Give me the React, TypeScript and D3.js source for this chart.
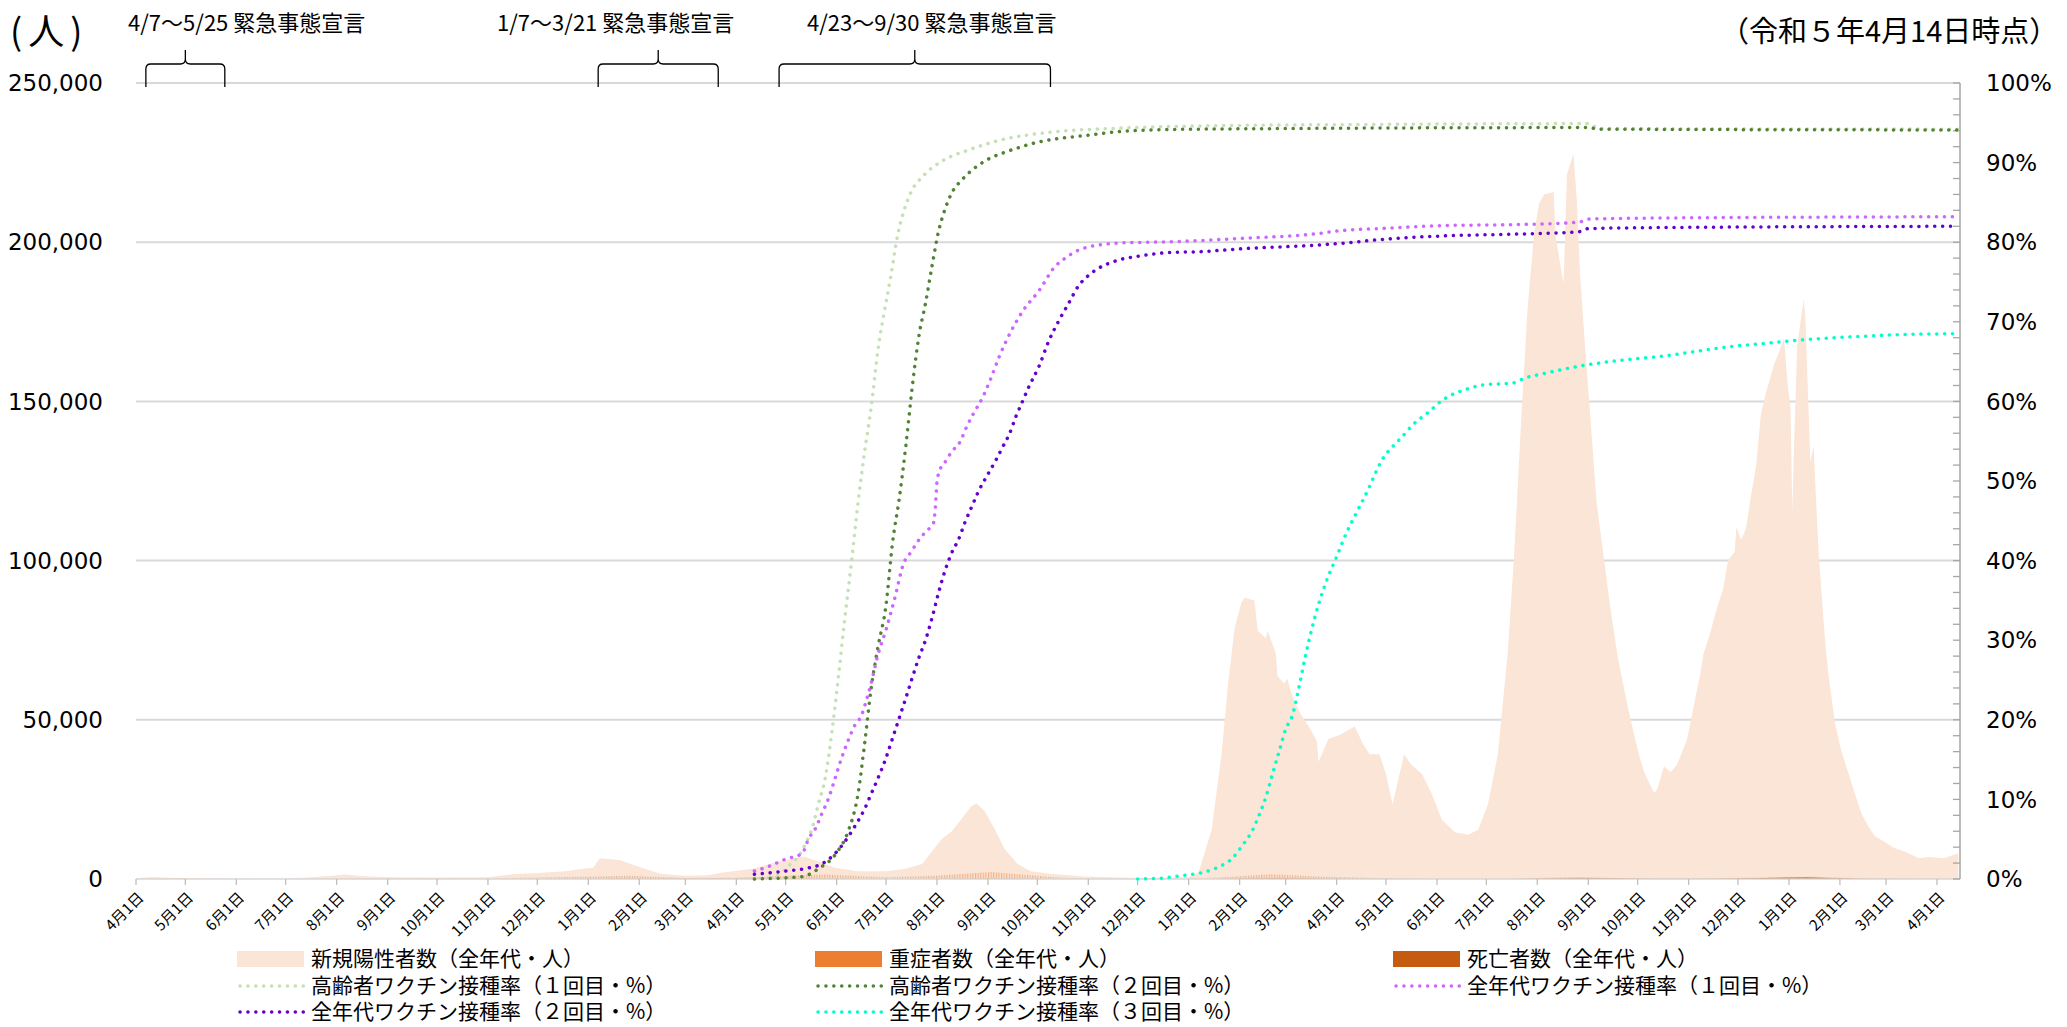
import React from "react";
import * as d3 from "d3";

// ---------------- data ----------------
const caseDates = [
  "2020-04-01","2020-04-11","2020-04-25","2020-05-10","2020-05-25","2020-06-20","2020-07-01","2020-07-14","2020-07-29","2020-08-06",
  "2020-08-18","2020-09-04","2020-10-01","2020-11-01","2020-11-17","2020-12-01","2020-12-18","2020-12-30","2021-01-04","2021-01-08",
  "2021-01-20","2021-01-29","2021-02-08","2021-02-15","2021-03-01","2021-03-15","2021-03-22","2021-04-11","2021-04-27","2021-05-12",
  "2021-05-21","2021-05-31","2021-06-14","2021-07-01","2021-07-13","2021-07-23","2021-07-29","2021-08-04","2021-08-10","2021-08-16",
  "2021-08-22","2021-08-25","2021-08-30","2021-09-05","2021-09-11","2021-09-19","2021-09-27","2021-10-10","2021-10-30","2021-12-01",
  "2021-12-27","2022-01-01","2022-01-07","2022-01-15","2022-01-21","2022-01-25","2022-01-29","2022-02-02","2022-02-04","2022-02-10",
  "2022-02-12","2022-02-17","2022-02-18","2022-02-23","2022-02-24","2022-02-28","2022-03-02","2022-03-05","2022-03-10","2022-03-16",
  "2022-03-20","2022-03-21","2022-03-27","2022-04-03","2022-04-12","2022-04-17","2022-04-21","2022-04-27","2022-05-01","2022-05-05",
  "2022-05-12","2022-05-16","2022-05-23","2022-05-29","2022-06-04","2022-06-12","2022-06-20","2022-06-26","2022-07-02","2022-07-08",
  "2022-07-14","2022-07-18","2022-07-22","2022-07-26","2022-07-30","2022-08-02","2022-08-05","2022-08-11","2022-08-12","2022-08-16",
  "2022-08-17","2022-08-19","2022-08-23","2022-08-25","2022-08-27","2022-08-30","2022-09-02","2022-09-06","2022-09-10","2022-09-14",
  "2022-09-19","2022-09-25","2022-09-29","2022-10-02","2022-10-05","2022-10-11","2022-10-13","2022-10-17","2022-10-21","2022-10-25",
  "2022-10-31","2022-11-05","2022-11-08","2022-11-10","2022-11-14","2022-11-18","2022-11-22","2022-11-25","2022-11-29","2022-11-30",
  "2022-12-03","2022-12-06","2022-12-09","2022-12-12","2022-12-15","2022-12-18","2022-12-23","2022-12-26","2022-12-29","2022-12-31",
  "2023-01-02","2023-01-03","2023-01-04","2023-01-06","2023-01-10","2023-01-11","2023-01-13","2023-01-14","2023-01-16","2023-01-17",
  "2023-01-19","2023-01-21","2023-01-23","2023-01-25","2023-01-27","2023-01-29","2023-02-02","2023-02-06","2023-02-10","2023-02-14",
  "2023-02-18","2023-02-22","2023-02-28","2023-03-06","2023-03-13","2023-03-21","2023-03-27","2023-04-05","2023-04-14"
];
const caseValues = [
  250,600,300,100,40,60,150,500,1000,1400,
  900,550,450,550,1600,1900,2400,3300,3500,6500,
  6000,4300,2600,1600,1050,1200,1900,3200,5500,7100,
  5500,3500,2400,2400,3200,4700,8700,12600,15000,18900,
  22900,23700,21300,15800,9500,4700,2400,1600,800,300,
  500,600,2000,15500,39200,61400,78800,86700,88300,87500,
  78000,75600,78000,70900,63800,61400,63000,57400,51900,47100,
  43200,36800,44000,45300,47900,42400,39200,39200,32900,23400,
  39200,36100,32900,26500,18600,14700,13900,15500,23400,39200,
  70900,102600,142200,178600,202400,211900,215000,215800,202400,189700,
  187300,221300,227700,213500,189700,167500,146900,118400,102600,86700,
  69400,54000,45000,38600,33500,27000,28300,35400,33500,36000,
  43700,56500,64200,70600,77000,84700,91100,100100,102700,110400,
  106500,110400,120600,129600,146300,152700,161700,165500,170000,156500,
  147600,115500,133500,167400,182200,175800,146300,130900,136000,124500,
  102700,88600,74500,64200,56500,48800,39900,33500,27000,20600,
  16800,13600,11700,9700,8500,6500,6900,6500,8100
];

const severeDates = [
  "2020-04-01","2020-04-30","2020-05-31","2020-07-01","2020-08-20","2020-09-30","2020-11-01","2020-12-01","2021-01-05","2021-01-26",
  "2021-02-28","2021-03-31","2021-05-25","2021-06-30","2021-07-31","2021-09-03","2021-10-15","2021-11-15","2021-12-31","2022-01-20",
  "2022-02-20","2022-03-20","2022-04-30","2022-06-15","2022-07-15","2022-08-25","2022-09-30","2022-11-01","2022-12-15","2023-01-15",
  "2023-02-15","2023-03-15","2023-04-14"
];
const severeValues = [
  100,330,60,35,260,150,170,450,800,1000,
  350,400,1400,550,1000,2200,400,80,60,500,
  1500,800,220,60,120,630,160,120,450,680,
  200,60,40
];

const deathDates = [
  "2020-04-01","2020-04-25","2020-05-15","2020-06-15","2020-08-25","2020-10-15","2020-12-01","2021-01-27","2021-03-10","2021-05-20",
  "2021-07-01","2021-09-01","2021-10-15","2021-12-01","2022-01-15","2022-02-22","2022-04-01","2022-06-01","2022-07-15","2022-08-28",
  "2022-10-10","2022-11-15","2023-01-12","2023-02-15","2023-04-14"
];
const deathValues = [
  3,25,15,2,15,8,30,100,40,110,
  20,60,15,2,15,270,80,20,20,340,
  60,80,480,100,10
];

const elderly1Dates = [
  "2021-04-12","2021-04-26","2021-05-04","2021-05-10","2021-05-13","2021-05-17","2021-05-21","2021-05-25","2021-05-29","2021-06-02",
  "2021-06-06","2021-06-10","2021-06-14","2021-06-18","2021-06-22","2021-06-26","2021-06-30","2021-07-04","2021-07-08","2021-07-12",
  "2021-07-16","2021-07-24","2021-08-05","2021-08-19","2021-09-08","2021-10-08","2021-11-17","2022-01-07","2022-05-01","2022-08-31",
  "2022-09-08","2023-04-14"
];
const elderly1Pct = [
  0,0.5,1.9,3.2,4.4,6.3,9.5,12.6,18.3,25.3,
  32.8,39.8,47.3,53.7,59.3,66.3,71.3,75.8,80.8,84.0,
  86.2,88.4,90.3,91.5,92.8,93.8,94.3,94.6,94.8,94.9,
  94.3,94.2
];

const elderly2Dates = [
  "2021-04-12","2021-05-11","2021-05-21","2021-06-01","2021-06-08","2021-06-14","2021-06-18","2021-06-22","2021-06-26","2021-07-01",
  "2021-07-05","2021-07-09","2021-07-13","2021-07-17","2021-07-21","2021-07-25","2021-07-29","2021-08-02","2021-08-05","2021-08-10",
  "2021-08-16","2021-08-22","2021-08-31","2021-09-10","2021-09-20","2021-09-30","2021-10-10","2021-10-30","2021-11-20","2021-12-10",
  "2022-01-07","2022-08-31","2022-09-08","2023-04-14"
];
const elderly2Pct = [
  0,0.3,1.3,3.3,6.0,10.7,17.0,24.0,29.0,34.4,
  42.3,47.7,54.3,61.9,68.2,72.3,77.0,81.4,83.6,86.2,
  87.8,89.0,90.3,91.2,91.9,92.5,92.9,93.4,93.9,94.1,
  94.2,94.4,94.2,94.1
];

const all1Dates = [
  "2021-04-12","2021-04-21","2021-05-01","2021-05-11","2021-05-15","2021-05-19","2021-05-23","2021-05-27","2021-05-31","2021-06-04",
  "2021-06-08","2021-06-12","2021-06-16","2021-06-19","2021-06-22","2021-06-26","2021-07-01","2021-07-06","2021-07-12","2021-07-16",
  "2021-07-20","2021-07-25","2021-07-30","2021-07-31","2021-08-01","2021-08-03","2021-08-06","2021-08-10","2021-08-15","2021-08-19",
  "2021-08-23","2021-08-29","2021-09-02","2021-09-08","2021-09-15","2021-09-22","2021-10-02","2021-10-12","2021-10-18","2021-10-25",
  "2021-11-01","2021-11-09","2021-11-20","2021-12-10","2021-12-26","2022-02-04","2022-03-17","2022-04-06","2022-04-26","2022-06-06",
  "2022-07-16","2022-08-26","2022-09-01","2022-09-25","2023-04-14"
];
const all1Pct = [
  1.0,1.6,2.5,3.2,5.1,6.3,8.2,10.1,12.6,15.2,
  17.4,19.3,20.5,22.4,24.6,28.1,31.3,35.0,39.8,41.0,
  42.3,43.6,44.8,46.7,49.9,51.5,52.4,53.7,54.9,56.8,
  58.4,60.6,62.5,65.7,68.8,71.3,73.9,77.0,78.0,78.9,
  79.4,79.7,79.9,80.0,80.1,80.5,81.0,81.5,81.7,82.1,
  82.2,82.5,82.9,83.0,83.2
];

const all2Dates = [
  "2021-04-12","2021-05-01","2021-05-15","2021-05-23","2021-05-31","2021-06-06","2021-06-12","2021-06-18","2021-06-22","2021-06-26",
  "2021-07-01","2021-07-05","2021-07-09","2021-07-13","2021-07-17","2021-07-21","2021-07-25","2021-07-29","2021-08-02","2021-08-06",
  "2021-08-10","2021-08-14","2021-08-18","2021-08-22","2021-08-26","2021-08-31","2021-09-06","2021-09-10","2021-09-14","2021-09-18",
  "2021-09-22","2021-09-26","2021-10-02","2021-10-08","2021-10-14","2021-10-20","2021-10-26","2021-11-01","2021-11-07","2021-11-13",
  "2021-11-20","2021-11-30","2021-12-10","2021-12-20","2022-01-07","2022-02-04","2022-03-17","2022-04-06","2022-04-26","2022-05-16",
  "2022-06-06","2022-07-16","2022-08-26","2022-09-01","2022-09-25","2023-04-14"
];
const all2Pct = [
  0.6,1.0,1.4,1.9,3.2,4.7,6.6,8.8,10.7,12.6,
  15.2,17.7,20.2,22.7,25.3,27.8,30.0,32.8,36.0,38.8,
  41.0,42.6,44.8,46.7,48.6,50.5,52.7,54.3,55.9,58.1,
  60.0,61.9,64.4,67.6,70.1,72.3,74.5,75.8,76.7,77.3,
  77.8,78.2,78.5,78.7,78.8,79.2,79.6,79.9,80.3,80.6,
  80.8,81.0,81.3,81.7,81.8,82.0
];

const all3Dates = [
  "2021-12-01","2021-12-15","2021-12-27","2022-01-09","2022-01-18","2022-01-28","2022-02-03","2022-02-09","2022-02-13","2022-02-17",
  "2022-02-21","2022-02-25","2022-03-01","2022-03-05","2022-03-09","2022-03-13","2022-03-17","2022-03-21","2022-03-25","2022-04-01",
  "2022-04-07","2022-04-13","2022-04-21","2022-04-25","2022-04-30","2022-05-05","2022-05-11","2022-05-18","2022-05-26","2022-06-04",
  "2022-06-20","2022-06-30","2022-07-17","2022-07-24","2022-08-05","2022-08-26","2022-09-07","2022-09-27","2022-10-17","2022-11-06",
  "2022-11-27","2022-12-18","2023-01-07","2023-01-28","2023-02-17","2023-03-10","2023-04-14"
];
const all3Pct = [
  0,0.1,0.4,0.8,1.4,2.7,4.3,6.2,8.1,10.3,
  13.2,16.0,18.8,20.5,24.0,28.0,31.5,34.5,37.0,40.5,
  43.5,46.0,49.3,51.2,53.1,54.3,55.6,57.2,58.5,60.1,
  61.6,62.1,62.3,62.9,63.5,64.4,64.8,65.3,65.7,66.3,
  66.9,67.3,67.7,68.0,68.2,68.4,68.5
];

const leftTickValues = [0, 50000, 100000, 150000, 200000, 250000];
const rightTickValues = [0, 10, 20, 30, 40, 50, 60, 70, 80, 90, 100];
const minorRightTickValues = d3.range(0, 101, 2);

const emergencyLabels = ["4/7～5/25 緊急事態宣言", "1/7～3/21 緊急事態宣言", "4/23～9/30 緊急事態宣言"];
const emergencyStarts = ["2020-04-07", "2021-01-07", "2021-04-27"];
const emergencyEnds = ["2020-05-25", "2021-03-21", "2021-10-09"];

const legendLabels = [
  "新規陽性者数（全年代・人）", "重症者数（全年代・人）", "死亡者数（全年代・人）",
  "高齢者ワクチン接種率（１回目・%）", "高齢者ワクチン接種率（２回目・%）", "全年代ワクチン接種率（１回目・%）",
  "全年代ワクチン接種率（２回目・%）", "全年代ワクチン接種率（３回目・%）"
];

// ---------------- layout / style ----------------
const W = 2067, H = 1027;
const PL = 136, PR = 1960, PT = 83, PB = 879;
const JP = '"Noto Sans CJK JP", "Noto Sans", sans-serif';
const NUM = '"DejaVu Sans", Verdana, sans-serif';
const C_CASE = "#FBE5D6", C_SEV = "#ED7D31", C_SEV_BAR = "#F4B183", C_DEATH = "#C55A11";
const C_E1 = "#C5E0B4", C_E2 = "#548235", C_A1 = "#CC66FF", C_A2 = "#6600CC", C_A3 = "#00FFCC";
const lineColors = [C_E1, C_E2, C_A1, C_A2, C_A3];
const legendColX = [237, 815, 1393];
const legendRowY = [959, 986, 1012];
const annotTextX = [128, 497, 807];

const parse = d3.timeParse("%Y-%m-%d");
type P = { date: Date; value: number };
const series = (ds: string[], vs: number[]): P[] => ds.map((d, i) => ({ date: parse(d) as Date, value: vs[i] }));

export default function App() {
  const x = d3.scaleTime().domain([new Date(2020, 3, 1), new Date(2023, 3, 15)]).range([PL, PR]);
  const yL = d3.scaleLinear().domain([0, 250000]).range([PB, PT]);
  const yR = d3.scaleLinear().domain([0, 100]).range([PB, PT]);

  const areaL = d3.area<P>().x(d => x(d.date)).y0(yL(0)).y1(d => yL(d.value));
  const lineR = d3.line<P>().x(d => x(d.date)).y(d => yR(d.value)).curve(d3.curveMonotoneX);

  const cases = series(caseDates, caseValues);
  const severe = series(severeDates, severeValues);
  const deaths = series(deathDates, deathValues);
  const vacc = [
    series(elderly1Dates, elderly1Pct),
    series(elderly2Dates, elderly2Pct),
    series(all1Dates, all1Pct),
    series(all2Dates, all2Pct),
    series(all3Dates, all3Pct),
  ];

  const months = d3.timeMonth.range(new Date(2020, 3, 1), new Date(2023, 3, 2));

  const bracket = (s: string, e: string) => {
    const x1 = x(parse(s) as Date), x2 = x(parse(e) as Date), xm = (x1 + x2) / 2;
    const yb = 87, yh = 64, yt = 50, r = 5;
    return `M${x1},${yb} L${x1},${yh + r} Q${x1},${yh} ${x1 + r},${yh} L${xm - r},${yh} Q${xm},${yh} ${xm},${yh - r} L${xm},${yt}` +
      ` M${xm},${yh - r} Q${xm},${yh} ${xm + r},${yh} L${x2 - r},${yh} Q${x2},${yh} ${x2},${yh + r} L${x2},${yb}`;
  };

  const dot = { strokeWidth: 3.5, strokeDasharray: "0.1 7.8", strokeLinecap: "round" as const, fill: "none" };

  const legendItems = legendLabels.map((label, i) => {
    const col = i % 3, row = Math.floor(i / 3);
    return { label, x: legendColX[col], y: legendRowY[row], i };
  });

  return (
    <svg width={W} height={H} style={{ position: "absolute", left: 0, top: 0, background: "#fff" }}>
      <defs>
        <pattern id="sevStripe" width="2.6" height="4" patternUnits="userSpaceOnUse">
          <rect x="0" y="0" width="1.2" height="4" fill={C_SEV_BAR} />
        </pattern>
      </defs>

      {/* gridlines */}
      {leftTickValues.filter(v => v > 0).map(v => (
        <line key={v} x1={PL} x2={PR} y1={yL(v)} y2={yL(v)} stroke="#D9D9D9" strokeWidth={2} />
      ))}

      {/* bars (as areas) */}
      <path d={areaL(cases) || ""} fill={C_CASE} />
      <path d={areaL(severe) || ""} fill="url(#sevStripe)" />
      <path d={areaL(deaths) || ""} fill={C_DEATH} />

      {/* x axis */}
      <line x1={PL} x2={PR} y1={PB} y2={PB} stroke="#D9D9D9" strokeWidth={1.5} />
      {months.map((m, i) => (
        <g key={i}>
          <line x1={x(m)} x2={x(m)} y1={PB} y2={PB + 6} stroke="#BFBFBF" strokeWidth={1.3} />
          <text transform={`translate(${x(m) + 5},${PB + 16}) rotate(-45)`} textAnchor="end" dy="0.35em"
            fontFamily={JP} fontSize={15} fill="#000">{`${m.getMonth() + 1}月1日`}</text>
        </g>
      ))}

      {/* right axis */}
      <line x1={PR} x2={PR} y1={PT} y2={PB} stroke="#A6A6A6" strokeWidth={1.5} />
      {minorRightTickValues.map(v => (
        <line key={v} x1={PR - 7} x2={PR} y1={yR(v)} y2={yR(v)} stroke="#A6A6A6" strokeWidth={1.3} />
      ))}
      {rightTickValues.map(v => (
        <text key={v} x={1986} y={yR(v)} dy="0.36em" fontFamily={NUM} fontSize={23} fill="#000">{`${v}%`}</text>
      ))}

      {/* left axis labels */}
      {leftTickValues.map(v => (
        <text key={v} x={103} y={yL(v)} dy="0.36em" textAnchor="end" fontFamily={NUM} fontSize={23} fill="#000">
          {d3.format(",")(v)}
        </text>
      ))}

      {/* vaccination lines */}
      {vacc.map((s, i) => (
        <path key={i} d={lineR(s) || ""} stroke={lineColors[i]} {...dot} />
      ))}

      {/* emergency annotations */}
      {emergencyLabels.map((lab, i) => (
        <g key={i}>
          <path d={bracket(emergencyStarts[i], emergencyEnds[i])} stroke="#000" strokeWidth={1.3} fill="none" />
          <text x={annotTextX[i]} y={31} fontFamily={JP} fontSize={22} fill="#000">{lab}</text>
        </g>
      ))}

      {/* titles */}
      <text x={10} y={45} fontFamily={JP} fontSize={36} letterSpacing={6} fill="#000">(人)</text>
      <text x={1720} y={42} fontFamily={JP} fontSize={29} fill="#000">（令和５年4月14日時点）</text>

      {/* legend */}
      {legendItems.map(it => (
        <g key={it.i}>
          {it.i < 3 ? (
            <rect x={it.x} y={it.y - 8} width={67} height={16} fill={[C_CASE, C_SEV, C_DEATH][it.i]} />
          ) : (
            <line x1={it.x + 3} x2={it.x + 67} y1={it.y} y2={it.y} stroke={lineColors[it.i - 3]} {...dot} />
          )}
          <text x={it.x + 74} y={it.y} dy="0.33em" fontFamily={JP} fontSize={21} fill="#000">{it.label}</text>
        </g>
      ))}
    </svg>
  );
}
